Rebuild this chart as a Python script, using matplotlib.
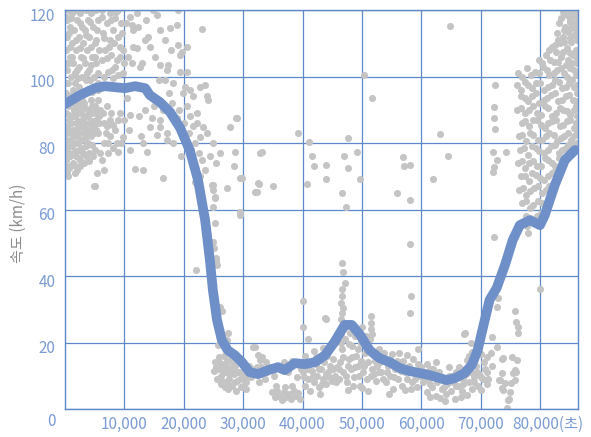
import matplotlib
matplotlib.use("Agg")
import matplotlib.pyplot as plt
import matplotlib.transforms as mtrans

plt.rcParams['font.family'] = ['Noto Sans CJK KR', 'DejaVu Sans']

# 평균 속도 곡선 (초, km/h)
line_t = [0, 2500, 5000, 6700, 8400, 10100, 11800, 13500, 14300, 16000, 17700,
          19400, 21000, 22400, 23600, 24400, 24900, 25600, 26400, 27400, 28600,
          29800, 31100, 32500, 34200, 35900, 37000, 38700, 40400, 42100, 43800,
          45400, 47100, 48300, 49700, 51300, 53000, 54700, 56400, 58100, 59800,
          61400, 63100, 64300, 65700, 67300, 68500, 69500, 70500, 71500, 72700,
          74100, 75400, 76600, 78300, 80000, 80800, 82500, 84200, 85900]
line_v = [91.7, 94.4, 96.5, 97.1, 96.8, 96.5, 97.1, 96.5, 94.4, 92.3, 89.3,
          84.5, 77.9, 68.9, 56.8, 44.8, 35.8, 26.8, 20.8, 17.7, 16.2,
          14.1, 11.1, 10.5, 11.7, 12.6, 11.7, 13.8, 13.5, 14.1, 16.2,
          20.2, 25.3, 25.3, 22.3, 17.7, 15.3, 14.1, 12.3, 11.4, 10.8,
          10.2, 9.3, 8.7, 9.3, 10.8, 13.2, 17.7, 25.3, 32.8, 36.4,
          43.3, 50.8, 55.3, 56.8, 55.3, 58.3, 67.4, 74.9, 77.9]

# 측정점 (초, km/h)
left_pts = [
    (500, 120), (1800, 120), (3500, 120), (5200, 120), (1100, 119), (2600, 119),
    (4400, 119), (300, 117), (2000, 117), (3800, 117), (5600, 117), (900, 115),
    (2900, 115), (4700, 115), (1500, 114), (3300, 114), (5400, 114), (400, 112),
    (2300, 112), (4100, 112), (1200, 110), (3000, 110), (5000, 110), (200, 108),
    (1900, 108), (3700, 108), (5700, 108), (800, 106), (2700, 106), (4500, 106),
    (1400, 104), (3400, 104), (5300, 104), (300, 102), (2100, 102), (4000, 102),
    (1000, 100), (2900, 100), (4800, 100), (500, 98), (1700, 98), (3500, 99),
    (1300, 96), (2400, 97), (200, 95), (900, 94), (2000, 93), (3200, 92),
    (4300, 93), (5500, 93), (600, 91), (1500, 90), (2600, 91), (3800, 90),
    (5000, 91), (100, 89), (1100, 88), (2200, 89), (3300, 88), (4600, 89),
    (5800, 88), (700, 87), (1800, 86), (2900, 87), (4100, 86), (5300, 87),
    (300, 85), (1400, 84), (2500, 85), (3700, 84), (4900, 85), (900, 83),
    (2000, 82), (3100, 83), (4400, 82), (5600, 83), (400, 81), (1600, 80),
    (2700, 81), (3900, 80), (1100, 79), (2300, 78), (3500, 79), (5100, 78),
    (600, 77), (1800, 76), (3000, 77), (4700, 76), (200, 75), (1300, 74),
    (2600, 75), (900, 73), (2100, 72), (300, 71), (1600, 71), (5400, 71),
    (500, 70), (5100, 67), (4800, 67),
]
left_fill = [
    (1000, 117.5), (2500, 116), (4200, 116.5), (600, 113), (1900, 111), (3600, 112.5),
    (5300, 111), (800, 109), (2500, 108.5), (4300, 109), (1200, 106), (3100, 105.5),
    (5000, 106), (600, 104), (2400, 103), (4400, 103.5), (1600, 101), (3700, 101),
    (5500, 101), (2200, 99.5), (4200, 99), (5500, 98), (100, 98), (100, 104),
    (100, 112), (100, 118), (3000, 95), (4500, 95.5), (5500, 96), (1200, 92),
    (2900, 93), (4600, 91), (300, 93), (2100, 91), (3400, 90.5), (5400, 90),
    (600, 88.5), (1700, 88), (2700, 89), (3900, 88), (5200, 89), (1000, 86),
    (2200, 86.5), (3300, 86), (4500, 86.5), (5800, 86), (600, 84), (1900, 84),
    (3200, 84.5), (4200, 84), (5200, 84), (1300, 82), (2400, 83), (3600, 82),
    (4800, 83), (100, 80), (900, 80.5), (2200, 80), (3300, 81), (4500, 79.5),
    (1600, 77.5), (2800, 78.5), (4000, 77), (400, 78.5), (900, 76), (2300, 75.5),
    (3500, 76), (700, 72.5), (1500, 73.5), (2600, 73), (100, 73), (100, 77),
    (100, 83), (3200, 74), (4100, 74.5),
    (6300, 120), (7000, 116), (7800, 117), (8600, 119.5), (9400, 116), (6600, 111.5),
    (7400, 109), (8200, 110), (9000, 112), (9800, 108), (6300, 105), (7700, 106.5),
    (8500, 103), (9200, 106), (10000, 104), (6500, 100), (7300, 101.5), (8100, 99.5),
    (9000, 100.5), (6400, 89), (6900, 83), (7500, 87), (8100, 85.5), (6600, 80),
    (7600, 82), (6200, 75), (7200, 77), (8000, 78.5), (6500, 72), (9900, 87),
    (10800, 84),
]
mid_pts = [
    (6400, 113), (7600, 119), (8400, 117.6), (7600, 111), (7100, 105.6), (8800, 105),
    (9600, 113), (10900, 118), (12100, 119), (11500, 114), (11500, 109), (11300, 104),
    (12600, 103), (9800, 101), (6200, 118), (9000, 120), (10300, 116), (8000, 114),
    (6800, 108), (9300, 109), (10600, 106), (7900, 102), (11300, 115.5), (12300, 115),
    (14000, 112), (14300, 109), (12100, 108.6), (13000, 104), (13600, 117), (14800, 120),
    (15500, 118.5), (16000, 114), (17700, 114.6), (18900, 115.5), (16800, 111),
    (19000, 109.5), (19400, 106.5), (16000, 103.5), (17300, 103.5), (17200, 102),
    (19700, 107.4), (20500, 109), (19400, 101.4), (20500, 101.4), (18200, 98),
    (20200, 97), (15200, 106), (17800, 108), (15800, 99), (19000, 120), (13400, 111),
    (5900, 90), (7100, 85), (9300, 89), (10900, 88.4), (10400, 93.5), (13500, 90),
    (14600, 87.5), (14300, 84.8), (16000, 84.8), (17200, 83), (7000, 91), (7800, 89),
    (9000, 87), (12500, 88), (8500, 84), (6500, 86), (9500, 80), (11000, 78),
    (12800, 82), (15500, 82.4), (17200, 81), (18200, 80), (13100, 72), (11800, 72.2),
    (16500, 69.5), (13100, 80), (13800, 77.3), (9800, 81.8), (8800, 80), (8900, 77.3),
    (7300, 80), (5900, 77), (16000, 87), (18900, 87.5), (15000, 91), (16500, 90),
    (18000, 92), (19200, 90), (17500, 95), (16800, 99), (19800, 95),
]
drop_pts = [
    (23100, 114.3), (23600, 97.4), (21600, 94), (23900, 94), (24100, 93), (20500, 91),
    (22200, 89), (22200, 86), (23200, 84.8), (23900, 83), (22700, 81.8), (24900, 80),
    (26100, 77), (27800, 84.8), (29000, 87.5), (28600, 77.3), (28500, 73), (27300, 66.5),
    (24900, 67.4), (25300, 63.8), (29800, 69.5), (29500, 59.2), (29500, 58.3),
    (32300, 65.3), (33200, 77.3), (35000, 67), (21000, 88), (21500, 85), (20800, 83),
    (21900, 80), (22500, 77), (23000, 75), (23500, 72), (21200, 78), (22800, 70),
    (24400, 76), (25500, 74), (21900, 68.3), (22400, 66.8), (24800, 67.4), (24900, 65.9),
    (25300, 63.5), (24900, 60.8), (25300, 55.9), (24900, 50.2), (25100, 48.4),
    (25400, 45.4), (25400, 44.5), (25600, 43.3), (22100, 41.8), (32000, 65.3),
    (32700, 67.7), (26100, 30.7), (26400, 29.5), (27400, 22.9), (27300, 20.8),
    (25800, 19.2), (28800, 87.5), (32800, 77), (29500, 69.5), (32500, 68),
    (20000, 86), (21000, 96), (22700, 97), (20300, 80), (19500, 76),
]
outlier_pts = [
    (39200, 83), (41100, 80.3), (41600, 76), (41900, 73), (40700, 67.7), (44000, 73.4),
    (44000, 69.2), (46600, 65), (47000, 76), (47700, 81.5), (47700, 72.5), (49200, 77.3),
    (49700, 69.2), (47300, 60.7), (50300, 100.5), (51700, 93.5), (56900, 75.8),
    (57100, 73), (58100, 73.4), (55900, 65), (58100, 62.9), (62000, 69.2), (63200, 82.7),
    (64500, 76), (64800, 115.2), (58100, 49.6), (58300, 34), (58100, 28.9), (72400, 97.4),
    (72200, 90.8), (72200, 87.5), (72400, 84.2), (72100, 77.3), (72700, 74.9),
    (72200, 72.8), (72100, 71.3), (74300, 77.3), (72200, 51.7), (80000, 36),
    (46600, 43.9), (46800, 41.2), (47100, 37.9), (46600, 36), (46700, 34), (46500, 32),
    (46900, 30.5), (46700, 29), (46400, 27), (40100, 32.5), (40100, 24.7), (44000, 27.1),
    (51500, 28), (51600, 26), (51500, 24), (51700, 22.5), (50000, 24.7), (43800, 27.4),
    (40900, 21), (36900, 14.1), (57600, 16.2), (59400, 18), (67200, 22.6), (67400, 22.9),
]
low_pts = [
    (25300, 14), (25800, 12), (26200, 10), (26500, 13.5), (26800, 8), (27000, 11),
    (27300, 14.5), (27600, 9), (27900, 12), (28200, 7), (28400, 10.5), (28700, 13),
    (29000, 8.5), (29300, 11), (29600, 6.5), (29900, 9.5), (30200, 12), (30500, 8),
    (30800, 10), (25600, 9), (26000, 15.5), (26700, 16), (27500, 6), (28000, 15),
    (28800, 5.4), (29500, 14), (30000, 7), (31000, 13), (25100, 11.5), (26300, 7.5),
    (27800, 17), (28500, 16.5), (31300, 9.5),
    (31700, 18.6), (32000, 18.6), (32500, 16.2), (32800, 14.7), (33200, 15.5),
    (31500, 12), (32200, 10.5), (33000, 12.5), (33600, 9), (34000, 11), (32600, 8),
    (33800, 14),
    (34900, 5), (35300, 3.5), (35700, 5.5), (36100, 4), (36500, 2.8), (36900, 5),
    (37300, 3.5), (37700, 4.5), (38100, 3), (38500, 5.5), (38900, 3.8), (39300, 4.8),
    (39600, 3), (35500, 7), (37000, 6.5), (38300, 7), (34500, 12.5), (35200, 10),
    (36000, 13), (37500, 11), (38200, 14.5), (39000, 9.5), (39800, 12),
    (40100, 11), (40400, 7), (40700, 13), (41000, 9), (41300, 5.5), (41600, 11.5),
    (41900, 8), (42200, 13.5), (42500, 10), (42800, 6.5), (43100, 12), (43400, 9),
    (43700, 14), (44000, 7.5), (44300, 11), (44600, 13), (44900, 8.5), (45200, 15),
    (45500, 10), (45800, 12.5), (40500, 16), (42000, 17.5), (43500, 18.5), (44800, 19),
    (45600, 21), (41500, 14.5), (43000, 4.5),
    (46100, 9), (46300, 14), (46600, 18), (46900, 11), (47200, 21), (47500, 8),
    (47800, 15), (48100, 12), (48400, 19), (48700, 9.5), (49000, 16), (49300, 13),
    (49600, 7), (49900, 20), (50200, 11), (50500, 17), (50800, 9), (51100, 14),
    (51400, 21), (51700, 12), (52000, 16), (52300, 8.5), (52600, 13), (52900, 18),
    (46400, 22.5), (47000, 24), (48000, 23), (48800, 22), (50000, 6.3), (51000, 5.5),
    (52000, 10.5), (47600, 5.8), (49500, 10),
    (53200, 11), (53600, 15), (54000, 8), (54400, 13), (54800, 10), (55200, 6),
    (55600, 12), (56000, 9), (56400, 14), (56800, 7), (57200, 11), (57300, 5.7),
    (57600, 9), (58000, 13), (58400, 8), (58800, 11), (59200, 6.5), (59600, 10),
    (60000, 12.5), (53800, 17), (55000, 16.5), (56200, 17), (54600, 4.5), (58600, 15),
    (60300, 8), (60600, 11), (60900, 5), (61200, 9), (61500, 12), (61800, 6.5),
    (62100, 9.5), (62400, 4), (62700, 8), (63000, 11), (63200, 3.3), (63500, 6),
    (63800, 9), (64100, 4.5), (64400, 7.5), (64700, 10), (65000, 5.5), (65300, 8),
    (65600, 3), (65900, 11), (61000, 13.5), (62500, 14),
    (66200, 7), (66500, 10), (66800, 5.5), (67100, 9), (67400, 12), (67700, 4.2),
    (68000, 8), (68300, 11), (68600, 6), (68900, 9.5), (69200, 13), (69500, 7),
    (69800, 10.5), (70100, 5.8), (70400, 9), (70700, 12), (71000, 7.5), (71100, 11),
    (67700, 14.7), (68000, 16), (68500, 17.1), (69000, 15), (70000, 16.5), (71000, 15.5),
    (69500, 18.5), (68300, 20),
    (71900, 21.7), (72700, 18.6), (71700, 16.8), (73600, 15), (75300, 15.6),
    (76100, 14.7), (75800, 11.7), (75800, 8.7), (73600, 10.8), (73300, 8.7),
    (73600, 6.3), (74900, 5.1), (74800, 3), (74400, 0.3), (72900, 33.4), (72700, 30.7),
    (75800, 29.5), (75900, 26.2), (76300, 24.7), (76300, 22.9), (73800, 15.3),
    (73100, 8.7), (74100, 7.8), (73800, 5.7), (74600, 2.7), (75100, 7.8), (75400, 10.8),
    (76000, 11.1), (72000, 13),
]
low_fill = [
    (25500, 12.5), (26100, 8.5), (26600, 11.5), (27100, 13), (27700, 10.5), (28300, 13.5),
    (28900, 11), (29400, 9), (30100, 10.5), (30600, 13), (26900, 6.5), (28600, 8),
    (30400, 6), (25900, 14), (27400, 7.5), (29100, 15), (31200, 11.5), (32300, 12.5),
    (33300, 10.5), (40300, 9.5), (40900, 12), (41800, 10), (42700, 12), (43300, 7.5),
    (43900, 10.5), (44500, 9.5), (45100, 12), (45700, 8), (42300, 15.5), (44100, 16),
    (46200, 12), (46800, 15.5), (47300, 10), (47700, 13), (48300, 15.5), (48900, 12.5),
    (49400, 18), (49800, 14.5), (50400, 13), (51000, 18.5), (51500, 10), (52200, 14.5),
    (52800, 11), (46500, 20), (47900, 19.5), (50700, 22), (48500, 7), (53000, 14),
    (53500, 9), (54200, 11), (54700, 15), (55400, 9.5), (55900, 14.5), (56600, 11.5),
    (57000, 14.5), (57800, 11), (58300, 6), (59000, 9), (59500, 13.5), (60200, 10),
    (60800, 9), (61400, 7.5), (62000, 12), (62600, 10.5), (63300, 9), (63900, 6.5),
    (64600, 12.5), (65200, 10), (65800, 7), (66400, 12.5), (67000, 7.5), (67600, 10.5),
    (68200, 13.5), (68800, 8), (69400, 11), (70000, 9.5), (70600, 14), (71200, 9),
    (66700, 3.5), (64000, 2.5), (61500, 3.5),
]
right_pts = [
    (83800, 119.5), (84600, 118.5), (85400, 120), (86000, 119), (85000, 117),
    (83200, 116), (84200, 115), (85100, 116.5), (85900, 115.5), (86200, 117),
    (82800, 113), (83900, 112), (84800, 113.5), (85700, 112.5), (86200, 111),
    (82000, 109), (83400, 110), (84500, 108.5), (85300, 110.5), (86100, 108), (82700, 107.5),
    (79800, 105), (81000, 106.5), (82400, 104.5), (83600, 106), (84700, 105),
    (85600, 106.5), (86200, 104),
    (76300, 101), (77800, 102.5), (79200, 101.5), (80500, 103), (81600, 100.5),
    (82900, 102), (84000, 101), (85100, 102.5), (86000, 100.5),
    (76100, 97.4), (77400, 98.5), (78600, 96.5), (80000, 98), (81300, 97),
    (82500, 99), (83700, 96.5), (84900, 98), (85800, 97),
    (76800, 94), (78000, 92.5), (79300, 95), (80600, 93), (81900, 94.5),
    (83100, 92.5), (84300, 94), (85500, 93), (86200, 95),
    (76200, 90), (77500, 89), (78800, 91), (80100, 88.5), (81400, 90.5),
    (82700, 89), (83900, 90), (85100, 88.5), (86000, 91),
    (76900, 86), (78100, 85), (79500, 87), (80800, 84.5), (82000, 86.5),
    (83300, 85), (84500, 86.5), (85700, 84.5),
    (76400, 82), (77600, 80.5), (78900, 82.5), (80300, 81), (81600, 83),
    (82800, 80.5), (84000, 82), (85200, 81), (86200, 83),
    (76700, 78), (78000, 76.5), (79300, 78.5), (80600, 77), (81900, 79),
    (83200, 77), (84300, 78.5), (85400, 80),
    (76300, 74), (77500, 72.5), (78800, 74.5), (80200, 73), (81400, 75),
    (82600, 73), (83800, 75),
    (76800, 70), (78100, 68.5), (79400, 70.5), (80700, 69), (82000, 71), (83100, 69.5),
    (76500, 66), (77700, 64.5), (79000, 66.5), (80300, 65), (81500, 67),
    (77000, 62), (78300, 60.5), (79600, 62.5), (80900, 61),
    (77600, 58), (78800, 56.5), (80200, 59), (78000, 53),
]
right_fill = [
    (84800, 119.5), (83500, 117.5), (85600, 118.5), (84000, 114), (85200, 114.5),
    (86000, 113), (83000, 111), (84100, 110.5), (85000, 111.5), (81500, 108),
    (82500, 109.5), (83800, 107.5), (85000, 107), (86100, 106), (80300, 104),
    (81700, 105), (83000, 104.5), (84300, 103.5), (85400, 104), (77000, 100),
    (78500, 100.5), (79900, 101), (81100, 102), (82300, 101), (83500, 102.5),
    (84600, 100), (85700, 102), (76800, 96), (78000, 97.5), (79400, 98), (80700, 96),
    (82000, 97.5), (83200, 98.5), (84300, 97), (85400, 99), (86200, 97.5),
    (77400, 93.5), (78600, 94), (79900, 92), (81200, 93.5), (82500, 95), (83700, 93),
    (84900, 94.5), (86000, 92.5), (76800, 90.5), (78200, 90), (79500, 89), (80800, 91),
    (82100, 88), (83300, 90.5), (84600, 89.5), (85700, 90), (77500, 86.5), (78800, 87),
    (80100, 85.5), (81400, 86), (82700, 87), (83900, 85.5), (85100, 87), (86100, 86),
    (77000, 82.5), (78300, 83), (79600, 81), (81000, 82), (82300, 82.5), (83500, 81.5),
    (84700, 83), (85800, 82), (77300, 78.5), (78600, 79), (79900, 77.5), (81300, 78),
    (82500, 79.5), (83700, 78), (84800, 79.5), (76900, 74.5), (78100, 74), (79500, 73),
    (80800, 75.5), (82100, 74), (83200, 75.5), (77400, 70), (78700, 71), (80000, 69.5),
    (81300, 70), (82500, 71.5), (77100, 66.5), (78400, 65.5), (79700, 67), (81000, 66),
    (77600, 62.5), (78900, 61.5), (80300, 62), (78300, 57.5), (79500, 58), (77800, 55),
    (86300, 88), (86300, 101), (86300, 114), (86300, 80),
]

groups = [left_pts, left_fill, mid_pts, drop_pts, outlier_pts, low_pts, low_fill,
          right_pts, right_fill]

fig = plt.figure(figsize=(5.91, 4.37), dpi=100)
ax = fig.add_axes([0.110, 0.064, 0.868, 0.913])

pt_x = [p[0] for g in groups for p in g]
pt_y = [p[1] for g in groups for p in g]
ax.scatter(pt_x, pt_y, s=26, color='#c4c4c4', linewidths=0, zorder=2)

ax.plot(line_t, line_v, color='#6e8fc8', linewidth=7,
        solid_capstyle='round', solid_joinstyle='round', zorder=3)

ax.set_xlim(0, 86400)
ax.set_ylim(0, 120)

grid_c = '#5f88c8'
xt = [10000, 20000, 30000, 40000, 50000, 60000, 70000, 80000]
ax.set_xticks(xt)
ax.set_xticklabels(['10,000', '20,000', '30,000', '40,000', '50,000',
                    '60,000', '70,000', '80,000(초)'])
ax.set_yticks([0, 20, 40, 60, 80, 100, 120])
ax.set_yticklabels(['0', '20', '40', '60', '80', '100', '120'])
ax.grid(True, color=grid_c, linewidth=0.9, zorder=1)
ax.set_axisbelow(True)
for sp in ax.spines.values():
    sp.set_color(grid_c)
    sp.set_linewidth(1.0)

lab_c = '#7b9bd5'
ax.tick_params(axis='both', length=0, labelsize=11, labelcolor=lab_c)
ax.tick_params(axis='x', pad=5)
ax.tick_params(axis='y', pad=7)

# 눈금 글자 위치 미세 조정
for lbl in ax.get_yticklabels():
    dy = -10 if lbl.get_text() == '0' else -4
    lbl.set_transform(lbl.get_transform() +
                      mtrans.ScaledTranslation(0, dy / 100, fig.dpi_scale_trans))
last = ax.get_xticklabels()[-1]
last.set_horizontalalignment('left')
last.set_transform(last.get_transform() +
                   mtrans.ScaledTranslation(-28 / 100, 0, fig.dpi_scale_trans))

fig.text(18 / 591, 0.49, '속도 (km/h)', rotation=90, color='#8c8c8c',
         fontsize=11, ha='center', va='center')

fig.savefig('out.png', dpi=100)
